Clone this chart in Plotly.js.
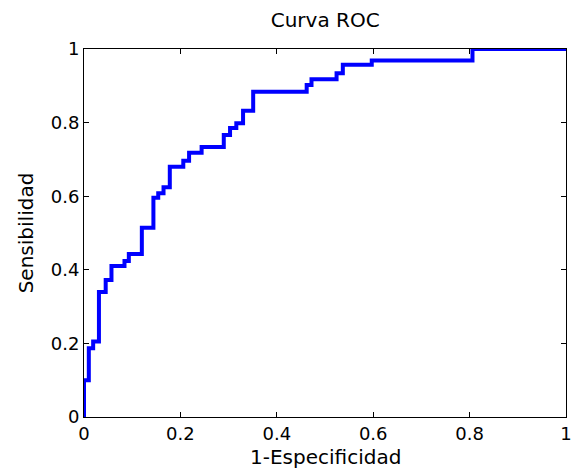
<!DOCTYPE html>
<html>
<head>
<meta charset="utf-8">
<script src="https://cdn.plot.ly/plotly-3.0.1.min.js"></script>
<style>html,body{margin:0;padding:0;background:#fff;}#chart{width:573px;height:473px;}</style>
</head>
<body>
<div id="chart"></div>
<script>
const fpr = [0, 0, 0.010, 0.019, 0.031, 0.045, 0.057, 0.084, 0.093, 0.120, 0.144, 0.154, 0.165, 0.178, 0.206, 0.218, 0.244, 0.290, 0.303, 0.316, 0.330, 0.351, 0.462, 0.472, 0.524, 0.537, 0.597, 0.806, 1.0];
const tpr = [0, 0.100, 0.187, 0.205, 0.340, 0.372, 0.410, 0.424, 0.443, 0.514, 0.596, 0.608, 0.624, 0.680, 0.696, 0.718, 0.734, 0.766, 0.785, 0.798, 0.832, 0.884, 0.902, 0.918, 0.934, 0.957, 0.969, 1.0, 1.0];
const tickVals = [0, 0.2, 0.4, 0.6, 0.8, 1];
const tickText = ["0", "0.2", "0.4", "0.6", "0.8", "1"];
const titleText = "Curva ROC";
const xTitle = "1-Especificidad";
const yTitle = "Sensibilidad";

const font = "DejaVu Sans, sans-serif";
const axisCommon = {
  range: [0, 1], tickvals: tickVals, ticktext: tickText,
  ticks: "inside", ticklen: 5, tickcolor: "#000", tickwidth: 1,
  showline: true, linecolor: "#000", linewidth: 1, mirror: "ticks",
  showgrid: false, zeroline: false, fixedrange: true,
  tickfont: {family: font, size: 18, color: "#000"}
};
Plotly.newPlot("chart", [{
  x: fpr, y: tpr, type: "scatter", mode: "lines",
  line: {color: "#0000ff", width: 4, shape: "hv"}
}], {
  width: 573, height: 473,
  margin: {l: 84, r: 7, t: 49, b: 56},
  paper_bgcolor: "#fff", plot_bgcolor: "#fff",
  showlegend: false,
  title: {text: titleText, x: 0.5675, xanchor: "center", y: 0.958, yanchor: "middle", font: {family: font, size: 20, color: "#000"}},
  xaxis: Object.assign({}, axisCommon, {ticklabelstandoff: 0}),
  yaxis: Object.assign({}, axisCommon, {title: {text: yTitle, standoff: 11, font: {family: font, size: 20, color: "#000"}}}),
  annotations: [{
    text: xTitle, xref: "paper", yref: "paper", x: 0.5, y: -0.109,
    xanchor: "center", yanchor: "middle", showarrow: false,
    font: {family: font, size: 20, color: "#000"}
  }]
}, {displayModeBar: false, staticPlot: true});
</script>
</body>
</html>
